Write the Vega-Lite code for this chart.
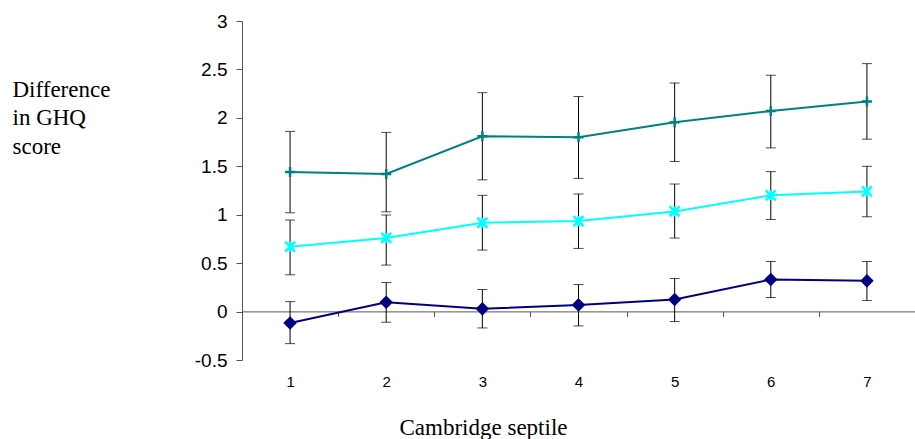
{
  "$schema": "https://vega.github.io/schema/vega-lite/v6.json",
  "width": 673,
  "height": 339,
  "autosize": "none",
  "padding": {"left": 242, "top": 21, "right": 0, "bottom": 79},
  "background": "white",
  "config": {"view": {"stroke": null}},
  "data": {"values": [
    {"sept": "1", "series": "A", "y": 1.44, "lo": 1.02, "hi": 1.86},
    {"sept": "2", "series": "A", "y": 1.42, "lo": 1.03, "hi": 1.85},
    {"sept": "3", "series": "A", "y": 1.81, "lo": 1.36, "hi": 2.26},
    {"sept": "4", "series": "A", "y": 1.80, "lo": 1.375, "hi": 2.22},
    {"sept": "5", "series": "A", "y": 1.955, "lo": 1.55, "hi": 2.36},
    {"sept": "6", "series": "A", "y": 2.07, "lo": 1.69, "hi": 2.44},
    {"sept": "7", "series": "A", "y": 2.17, "lo": 1.78, "hi": 2.56},
    {"sept": "1", "series": "B", "y": 0.67, "lo": 0.38, "hi": 0.945},
    {"sept": "2", "series": "B", "y": 0.76, "lo": 0.48, "hi": 0.997},
    {"sept": "3", "series": "B", "y": 0.917, "lo": 0.635, "hi": 1.20},
    {"sept": "4", "series": "B", "y": 0.935, "lo": 0.652, "hi": 1.214},
    {"sept": "5", "series": "B", "y": 1.034, "lo": 0.759, "hi": 1.317},
    {"sept": "6", "series": "B", "y": 1.20, "lo": 0.951, "hi": 1.445},
    {"sept": "7", "series": "B", "y": 1.24, "lo": 0.979, "hi": 1.50},
    {"sept": "1", "series": "C", "y": -0.117, "lo": -0.331, "hi": 0.103},
    {"sept": "2", "series": "C", "y": 0.097, "lo": -0.11, "hi": 0.30},
    {"sept": "3", "series": "C", "y": 0.028, "lo": -0.169, "hi": 0.228},
    {"sept": "4", "series": "C", "y": 0.069, "lo": -0.148, "hi": 0.279},
    {"sept": "5", "series": "C", "y": 0.124, "lo": -0.103, "hi": 0.341},
    {"sept": "6", "series": "C", "y": 0.331, "lo": 0.145, "hi": 0.517},
    {"sept": "7", "series": "C", "y": 0.317, "lo": 0.114, "hi": 0.517}
  ]},
  "encoding": {
    "x": {
      "field": "sept", "type": "ordinal",
      "scale": {"paddingInner": 0, "paddingOuter": 0},
      "axis": {
        "title": "Cambridge septile",
        "offset": -48.6,
        "tickBand": "extent",
        "domainColor": "#555", "tickColor": "#555", "tickSize": 5,
        "labelAngle": 0, "labelFont": "Liberation Sans", "labelFontSize": 15, "labelColor": "black",
        "labelPadding": 58,
        "titleFont": "Liberation Serif", "titleFontSize": 23, "titleFontWeight": "normal", "titleColor": "black",
        "titleX": 241, "titleY": 123.3, "titleAlign": "center", "titleBaseline": "alphabetic", "titleAnchor": null
      }
    },
    "y": {
      "field": "y", "type": "quantitative",
      "scale": {"domain": [-0.5, 3], "nice": false, "zero": false},
      "axis": {
        "values": [-0.5, 0, 0.5, 1, 1.5, 2, 2.5, 3],
        "labelExpr": "datum.value + ''",
        "grid": false,
        "domainColor": "#555", "tickColor": "#555", "tickSize": 6,
        "labelFont": "Liberation Sans", "labelFontSize": 19, "labelColor": "black", "labelPadding": 9,
        "title": ["Difference", "in GHQ", "score"],
        "titleAngle": 0, "titleX": -230, "titleY": 75, "titleAlign": "left", "titleBaseline": "alphabetic",
        "titleLineHeight": 28.5,
        "titleFont": "Liberation Serif", "titleFontSize": 23, "titleFontWeight": "normal", "titleColor": "black"
      }
    }
  },
  "layer": [
    {
      "mark": {"type": "line", "strokeWidth": 2},
      "encoding": {
        "color": {"field": "series", "type": "nominal", "legend": null,
          "scale": {"domain": ["A", "B", "C"], "range": ["#008080", "#00FFFF", "#000080"]}}
      }
    },
    {
      "mark": {"type": "rule", "color": "black", "strokeWidth": 1},
      "encoding": {"y": {"field": "lo", "type": "quantitative"}, "y2": {"field": "hi"}}
    },
    {
      "mark": {"type": "tick", "color": "black", "size": 10, "thickness": 1},
      "encoding": {"y": {"field": "lo", "type": "quantitative"}}
    },
    {
      "mark": {"type": "tick", "color": "black", "size": 10, "thickness": 1},
      "encoding": {"y": {"field": "hi", "type": "quantitative"}}
    },
    {
      "mark": {"type": "point", "filled": true, "opacity": 1, "strokeWidth": 2.5},
      "encoding": {
        "fill": {"field": "series", "type": "nominal", "legend": null,
          "scale": {"domain": ["A", "B", "C"], "range": ["#008080", "#00FFFF", "#000080"]}},
        "stroke": {"field": "series", "type": "nominal", "legend": null,
          "scale": {"domain": ["A", "B", "C"], "range": ["#008080", "#00FFFF", "#000080"]}},
        "shape": {"field": "series", "type": "nominal", "legend": null,
          "scale": {"domain": ["A", "B", "C"], "range": ["M-1,0H1M0,-1V1", "M-1,-1L1,1M-1,1L1,-1M0,-1V1", "diamond"]}},
        "size": {"value": 100}
      }
    }
  ]
}
